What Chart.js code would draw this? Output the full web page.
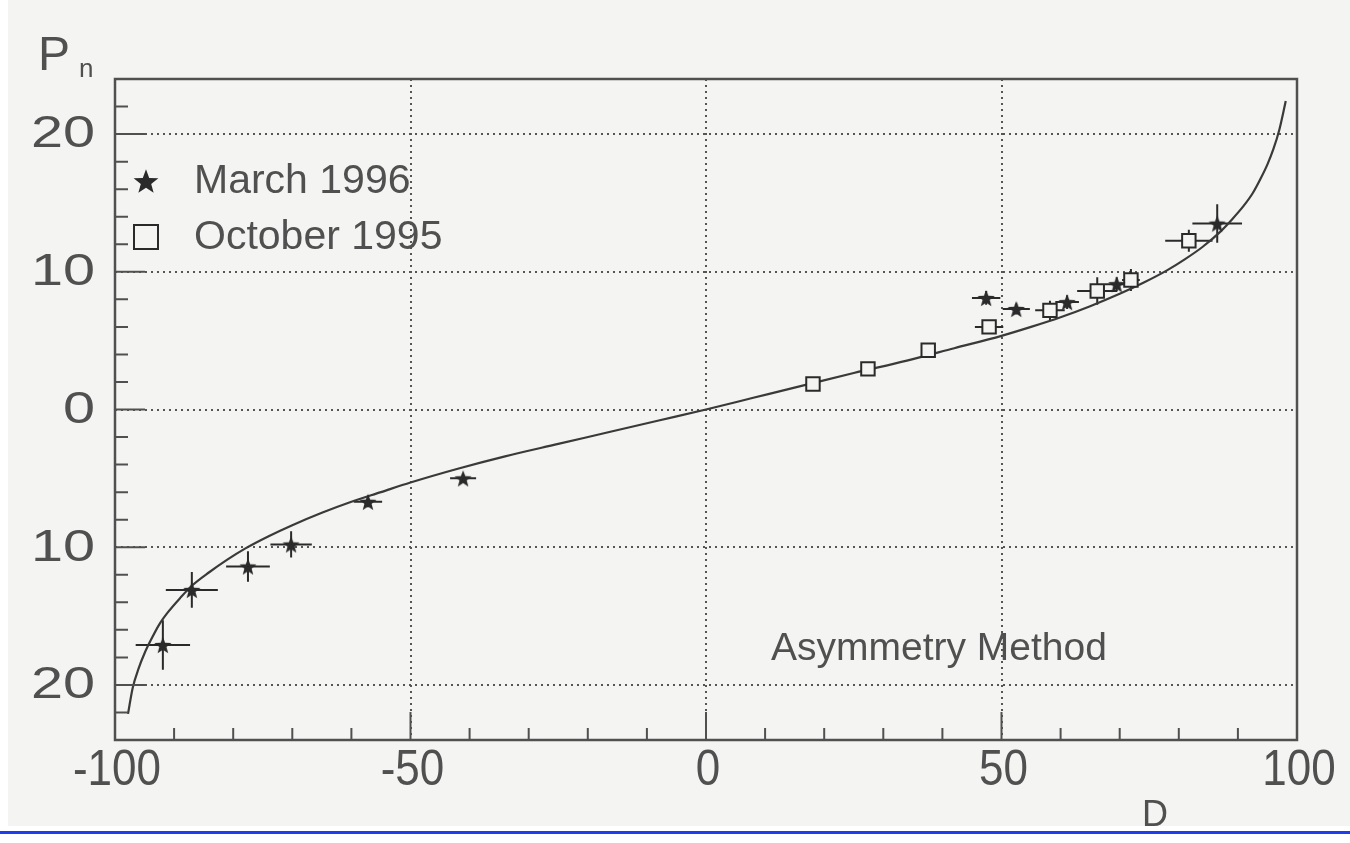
<!DOCTYPE html>
<html>
<head>
<meta charset="utf-8">
<script src="https://cdn.jsdelivr.net/npm/chart.js@4.4.1/dist/chart.umd.min.js"></script>
<style>
  html, body { margin: 0; padding: 0; background: #ffffff; }
  #wrap { width: 1350px; height: 843px; }
</style>
</head>
<body>
<div id="wrap"><canvas id="pnChart" width="1350" height="843"></canvas></div>
<script>
// March 1996 (stars)
const marchD = [-91.9, -87.0, -77.5, -70.2, -57.2, -41.1, 47.4, 52.5, 61.1, 69.5, 86.5];
const marchP = [-17.1, -13.1, -11.4, -9.8, -6.7, -5.0, 8.1, 7.3, 7.8, 9.1, 13.5];
const marchDErr = [4.6, 4.4, 3.7, 3.5, 2.4, 2.2, 2.4, 2.3, 2.0, 2.0, 4.2];
const marchPErr = [1.8, 1.3, 1.1, 0.95, 0.4, 0.3, 0.5, 0.4, 0.5, 0.5, 1.4];

// October 1995 (open squares)
const octD = [18.1, 27.4, 37.6, 47.9, 58.2, 66.2, 71.9, 81.7];
const octP = [1.85, 2.95, 4.3, 6.0, 7.2, 8.6, 9.4, 12.25];
const octDErr = [0, 0, 0, 2.4, 2.5, 3.4, 1.5, 4.0];
const octPErr = [0, 0, 0, 0.3, 0.7, 1.0, 0.8, 0.8];

// theoretical curve
const curveD = [-97.8, -97.0, -96.0, -95.0, -94.0, -92.5, -91.0, -89.0, -87.0, -84.0, -81.0, -78.0, -74.0, -70.0, -65.0, -60.0, -55.0, -50.0, -42.0, -34.0, -25.0, -16.0, -8.0, 0,
                8, 16, 25, 34, 42, 50, 55, 60, 65, 70, 74, 78, 81, 84, 87, 89, 91, 92.5, 94, 95, 96, 97, 98.1];
const curveP = [-22.1, -20.2, -18.8, -17.7, -16.8, -15.6, -14.7, -13.7, -12.8, -11.8, -10.9, -10.1, -9.2, -8.4, -7.5, -6.7, -6.0, -5.3, -4.3, -3.4, -2.5, -1.6, -0.8, 0,
                0.85, 1.7, 2.65, 3.55, 4.45, 5.35, 6.0, 6.7, 7.5, 8.4, 9.2, 10.1, 10.9, 11.8, 12.9, 13.8, 14.8, 15.7, 16.9, 17.8, 18.9, 20.3, 22.4];

// axes
const xTicks = [-100, -50, 0, 50, 100];
const xTickText = ['-100', '-50', '0', '50', '100'];
const xMinorTicks = [-90, -80, -70, -60, -40, -30, -20, -10, 10, 20, 30, 40, 60, 70, 80, 90];
const yTicks = [-20, -10, 0, 10, 20];
const yTickText = ['20', '10', '0', '10', '20'];
const yMinorTicks = [-22, -18, -16, -14, -12, -8, -6, -4, -2, 2, 4, 6, 8, 12, 14, 16, 18, 22];

const INK = '#2a2a2a';
const TEXT = '#505050';
const PAPER = '#f4f4f2';
const FONT = '"Liberation Sans", Arial, sans-serif';

function makeStar(size) {
    const c = document.createElement('canvas');
    c.width = size; c.height = size;
    const g = c.getContext('2d');
    g.beginPath();
    for (let i = 0; i < 10; i++) {
        const r = i % 2 ? size * 0.21 : size * 0.5;
        const a = -Math.PI / 2 + i * Math.PI / 5;
        g.lineTo(size / 2 + r * Math.cos(a), size / 2 + r * Math.sin(a) + size * 0.05);
    }
    g.closePath();
    g.fillStyle = INK;
    g.fill();
    return c;
}
const starSmall = makeStar(18);
const starBig = makeStar(26);

function toPts(xs, ys) { return xs.map((v, i) => ({ x: v, y: ys[i] })); }

// text with horizontal stretch, so the scanned glyph shapes come out close
function stretchedText(ctx, txt, x, y, font, sx, align) {
    ctx.save();
    ctx.font = font;
    ctx.textBaseline = 'middle';
    ctx.textAlign = align;
    ctx.translate(x, y);
    ctx.scale(sx, 1);
    ctx.fillText(txt, 0, 0);
    ctx.restore();
}

const paperPlugin = {
    id: 'paper',
    beforeDraw(chart) {
        const ctx = chart.ctx;
        ctx.save();
        ctx.fillStyle = '#ffffff';
        ctx.fillRect(0, 0, chart.width, chart.height);
        ctx.fillStyle = PAPER;
        ctx.fillRect(8, 0, chart.width - 8, 826);
        ctx.fillStyle = '#1f3df0';
        ctx.fillRect(0, 831, chart.width, 3);
        ctx.restore();
    }
};

const errorBarPlugin = {
    id: 'errorBars',
    beforeDatasetsDraw(chart) {
        const ctx = chart.ctx;
        const xs = chart.scales.x, ys = chart.scales.y;
        ctx.save();
        ctx.strokeStyle = INK;
        ctx.lineWidth = 2;
        const sets = [[marchD, marchP, marchDErr, marchPErr], [octD, octP, octDErr, octPErr]];
        sets.forEach(([d, p, de, pe]) => {
            d.forEach((v, i) => {
                const px = xs.getPixelForValue(v), py = ys.getPixelForValue(p[i]);
                ctx.beginPath();
                if (de[i] > 0) {
                    ctx.moveTo(xs.getPixelForValue(v - de[i]), py);
                    ctx.lineTo(xs.getPixelForValue(v + de[i]), py);
                }
                if (pe[i] > 0) {
                    ctx.moveTo(px, ys.getPixelForValue(p[i] - pe[i]));
                    ctx.lineTo(px, ys.getPixelForValue(p[i] + pe[i]));
                }
                ctx.stroke();
            });
        });
        ctx.restore();
    }
};

const framePlugin = {
    id: 'frame',
    afterDraw(chart) {
        const ctx = chart.ctx;
        const a = chart.chartArea;
        const xs = chart.scales.x, ys = chart.scales.y;
        ctx.save();
        // frame
        ctx.strokeStyle = '#505050';
        ctx.lineWidth = 2.5;
        ctx.strokeRect(a.left, a.top, a.right - a.left, a.bottom - a.top);

        // inward ticks
        ctx.lineWidth = 2;
        ctx.beginPath();
        xMinorTicks.forEach(v => {
            const px = xs.getPixelForValue(v);
            ctx.moveTo(px, a.bottom); ctx.lineTo(px, a.bottom - 12);
        });
        xTicks.forEach(v => {
            const px = xs.getPixelForValue(v);
            ctx.moveTo(px, a.bottom); ctx.lineTo(px, a.bottom - 28);
        });
        yMinorTicks.forEach(v => {
            const py = ys.getPixelForValue(v);
            ctx.moveTo(a.left, py); ctx.lineTo(a.left + 13, py);
        });
        yTicks.forEach(v => {
            const py = ys.getPixelForValue(v);
            ctx.moveTo(a.left, py); ctx.lineTo(a.left + 30, py);
        });
        ctx.stroke();

        // tick labels
        ctx.fillStyle = TEXT;
        xTicks.forEach((v, i) => {
            stretchedText(ctx, xTickText[i], xs.getPixelForValue(v) + 2, 771, '50px ' + FONT, 0.88, 'center');
        });
        yTicks.forEach((v, i) => {
            stretchedText(ctx, yTickText[i], 95, ys.getPixelForValue(v) + 1, '45px ' + FONT, 1.28, 'right');
        });

        // axis titles
        ctx.textBaseline = 'alphabetic';
        ctx.textAlign = 'left';
        ctx.font = '48px ' + FONT;
        ctx.fillText('P', 38, 70);
        ctx.font = '26px ' + FONT;
        ctx.fillText('n', 79, 77);
        ctx.font = '36px ' + FONT;
        ctx.fillText('D', 1142, 826);

        // legend
        const ds = chart.data.datasets;
        ctx.drawImage(starBig, 146 - starBig.width / 2, 181 - starBig.height / 2);
        ctx.strokeStyle = INK;
        ctx.lineWidth = 2;
        ctx.strokeRect(134, 225, 24, 24);
        ctx.font = '41px ' + FONT;
        ctx.textBaseline = 'middle';
        ctx.fillText(ds[0].label, 194, 182);
        ctx.fillText(ds[1].label, 194, 238);

        // annotation
        ctx.font = '39px ' + FONT;
        ctx.fillText('Asymmetry Method', 771, 649);
        ctx.restore();
    }
};

const ctx = document.getElementById('pnChart').getContext('2d');
new Chart(ctx, {
    type: 'scatter',
    data: {
        datasets: [
            {
                label: 'March 1996',
                data: toPts(marchD, marchP),
                pointStyle: starSmall,
                pointRadius: 9,
                order: 1
            },
            {
                label: 'October 1995',
                data: toPts(octD, octP),
                pointStyle: 'rect',
                pointRadius: 9.5,
                borderColor: INK,
                borderWidth: 2,
                backgroundColor: PAPER,
                order: 2
            },
            {
                label: 'curve',
                data: toPts(curveD, curveP),
                showLine: true,
                pointRadius: 0,
                borderColor: '#3a3a3a',
                borderWidth: 2.2,
                cubicInterpolationMode: 'monotone',
                order: 3
            }
        ]
    },
    options: {
        responsive: false,
        animation: false,
        layout: { padding: { left: 0, right: 53, top: 79, bottom: 0 } },
        plugins: {
            legend: { display: false },
            tooltip: { enabled: false }
        },
        scales: {
            x: {
                type: 'linear',
                min: -100,
                max: 100,
                afterBuildTicks: s => { s.ticks = xTicks.map(v => ({ value: v })); },
                afterFit: s => { s.height = 103; },
                ticks: { display: false },
                grid: { color: '#555555', lineWidth: 2, drawTicks: false },
                border: { display: false, dash: [2, 4] }
            },
            y: {
                type: 'linear',
                min: -24,
                max: 24,
                afterBuildTicks: s => { s.ticks = yTicks.map(v => ({ value: v })); },
                afterFit: s => { s.width = 115; },
                ticks: { display: false },
                grid: { color: '#555555', lineWidth: 2, drawTicks: false },
                border: { display: false, dash: [2, 4] }
            }
        }
    },
    plugins: [paperPlugin, errorBarPlugin, framePlugin]
});
</script>
</body>
</html>
